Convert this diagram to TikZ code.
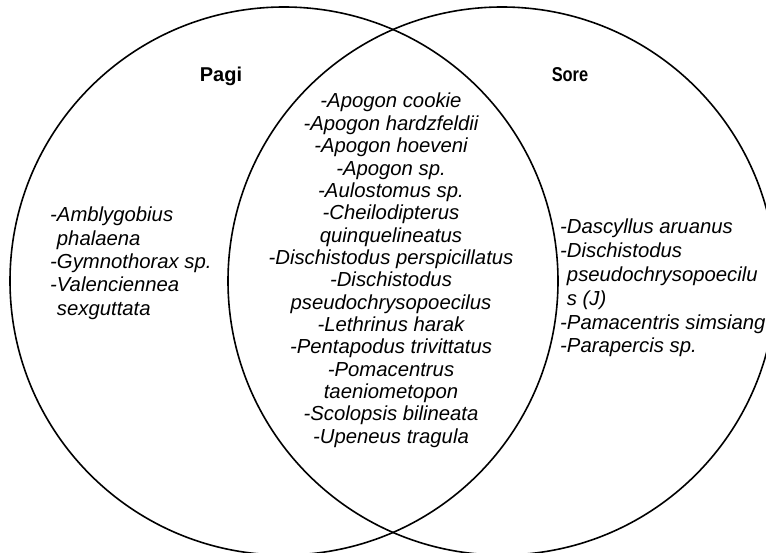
\documentclass[tikz,border=0pt]{standalone}
\usepackage{fontspec}
\setmainfont{Liberation Sans}
\begin{document}
\begin{tikzpicture}[x=1pt,y=-1pt,
  ring/.style={draw=black, line width=1.6pt},
  sp/.style={font=\fontsize{20.3}{22}\selectfont\itshape, inner sep=0pt},
  midtxt/.style={sp, anchor=base},
  sidetxt/.style={sp, anchor=base west},
  title/.style={font=\fontsize{20}{22}\selectfont\bfseries, inner sep=0pt, anchor=base}]
\useasboundingbox (0,0) rectangle (766,553);
\clip (0,0) rectangle (766,553);
\fill[white] (0,0) rectangle (766,553);
\draw[ring] (284,281) circle[radius=274pt];
\draw[ring] (502,281) circle[radius=274pt];
\node[title] (pagi) at (221,82) {Pagi};
\node[title] (sore) at (570,82) {\scalebox{0.82}[1]{Sore}};
\foreach \t [count=\i] in {{-Apogon cookie},{-Apogon hardzfeldii},{-Apogon hoeveni},{-Apogon sp.},{-Aulostomus sp.},{-Cheilodipterus},{quinquelineatus},{-Dischistodus perspicillatus},{-Dischistodus},{pseudochrysopoecilus},{-Lethrinus harak},{-Pentapodus trivittatus},{-Pomacentrus},{taeniometopon},{-Scolopsis bilineata},{-Upeneus tragula}}
  \node[midtxt] (m\i) at (391,{108+22.35*(\i-1)}) {\t};
\foreach \t [count=\i] in {{-Amblygobius},{\phantom{-}phalaena},{-Gymnothorax sp.},{-Valenciennea},{\phantom{-}sexguttata}}
  \node[sidetxt] (l\i) at (50,{222+23.3*(\i-1)}) {\t};
\foreach \t [count=\i] in {{-Dascyllus aruanus},{-Dischistodus},{\phantom{-}pseudochrysopoecilu},{\phantom{-}s (J)},{-Pamacentris simsiang},{-Parapercis sp.}}
  \node[sidetxt] (r\i) at (560,{234+23.8*(\i-1)}) {\t};
\end{tikzpicture}
\end{document}
